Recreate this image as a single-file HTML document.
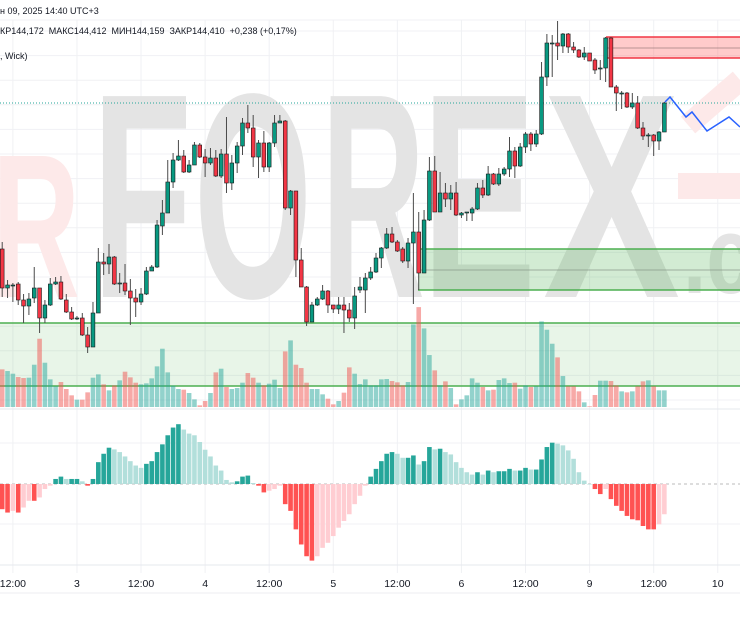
<!DOCTYPE html>
<html><head><meta charset="utf-8"><style>
html,body{margin:0;padding:0;background:#fff;}
body{width:740px;height:620px;overflow:hidden;position:relative;font-family:"Liberation Sans","DejaVu Sans",sans-serif;}
.hdr{position:absolute;left:0;font-size:9px;color:#131722;white-space:pre;}
</style></head><body>
<svg id="chart" width="740" height="620" viewBox="0 0 740 620" style="position:absolute;left:0;top:0">
<g id="grid"></g>
<g id="wm" font-family="Liberation Sans, sans-serif" font-weight="bold">
<text x="-8" y="297" font-size="205" fill="#fde9e9" textLength="88" lengthAdjust="spacingAndGlyphs">R</text>
<text x="92" y="297" font-size="292" fill="#e4e4e4" textLength="100" lengthAdjust="spacingAndGlyphs">F</text>
<text x="194" y="297" font-size="292" fill="#e4e4e4" textLength="118" lengthAdjust="spacingAndGlyphs">O</text>
<text x="321" y="297" font-size="292" fill="#e4e4e4" textLength="104" lengthAdjust="spacingAndGlyphs">R</text>
<text x="422" y="297" font-size="292" fill="#e4e4e4" textLength="114" lengthAdjust="spacingAndGlyphs">E</text>
<text x="543" y="297" font-size="292" fill="#e4e4e4" textLength="137" lengthAdjust="spacingAndGlyphs">X</text>
<text x="683" y="293" font-size="110" fill="#e4e4e4" textLength="70" lengthAdjust="spacingAndGlyphs">.c</text>
<polyline points="688,125 740,80" stroke="#fde9e9" stroke-width="22" fill="none"/>
<rect x="678" y="173" width="62" height="26" fill="#fde9e9"/>
</g>
<g id="zones">
<rect x="0" y="323" width="740" height="63" fill="rgba(76,175,80,0.13)"/>
<line x1="0" y1="323" x2="740" y2="323" stroke="#4caf50" stroke-width="1.5"/>
<line x1="0" y1="386" x2="740" y2="386" stroke="#4caf50" stroke-width="1.5"/>
<rect x="418" y="249" width="322" height="41" fill="rgba(76,175,80,0.25)"/>
<line x1="418" y1="249" x2="740" y2="249" stroke="#4caf50" stroke-width="1.5"/>
<line x1="418" y1="290" x2="740" y2="290" stroke="#4caf50" stroke-width="1.5"/>
<line x1="418" y1="270" x2="740" y2="270" stroke="#8a9a8a" stroke-width="0.7"/>
<rect x="606" y="37" width="134" height="21" fill="rgba(255,82,82,0.3)"/>
<line x1="606" y1="37" x2="740" y2="37" stroke="#f23645" stroke-width="1.5"/>
<line x1="606" y1="58" x2="740" y2="58" stroke="#f23645" stroke-width="1.5"/>
<line x1="606" y1="48" x2="740" y2="48" stroke="#a08080" stroke-width="0.7"/>
</g>
<line x1="0" y1="103" x2="740" y2="103" stroke="#26a69a" stroke-width="1" stroke-dasharray="1,2"/>
<g id="vol"></g>
<g id="candles"></g>
<polyline points="665,102 670,97 686,117 692,112 707,131 729,117 740,127" fill="none" stroke="#2962ff" stroke-width="1.5"/>
<line x1="0" y1="409" x2="740" y2="409" stroke="#e6e8ee" stroke-width="1"/>
<line x1="0" y1="484" x2="740" y2="484" stroke="#bbb" stroke-width="1" stroke-dasharray="3,3"/>
<g id="hist"></g>
<line x1="0" y1="565" x2="740" y2="565" stroke="#e6e8ee"/>
<line x1="0" y1="593" x2="740" y2="593" stroke="#eceef2"/>
<g id="xaxis" font-size="10.5" fill="#131722" text-anchor="middle"></g>
</svg>
<div class="hdr" style="top:6px">н 09, 2025 14:40 UTC+3</div>
<div class="hdr" style="top:26px">КР144,172  МАКС144,412  МИН144,159  ЗАКР144,410  +0,238 (+0,17%)</div>
<div class="hdr" style="top:51px">, Wick)</div>
<script>
const openV=[251,212,215,216,200,194,202,212,182,195,216,218,200,188,182,182,165,153,187,238,236,243,217,217,209,202,198,206,229,233,274,287,318,340,344,328,335,355,343,337,342,324,346,317,337,354,377,372,343,357,333,357,377,379,292,309,240,213,178,195,201,209,195,191,195,190,182,210,210,222,228,242,252,266,258,251,239,257,268,227,280,329,288,307,301,307,285,287,287,291,312,305,326,316,326,331,349,334,353,366,356,366,423,457,457,454,466,453,450,443,447,440,432,432,462,413,407,407,393,397,372,365,365,359,368];
const highV=[258,220,217,218,206,207,233,212,200,222,223,224,206,193,184,187,173,198,252,247,256,244,227,236,221,211,212,233,235,280,300,340,347,360,350,340,358,357,351,352,350,351,383,345,358,382,395,385,360,369,358,385,385,380,310,309,252,214,198,203,215,210,195,203,203,197,213,223,227,233,247,253,272,273,260,253,262,307,288,290,343,344,328,317,315,318,288,288,293,317,320,334,327,332,333,363,353,357,368,368,370,438,466,465,479,467,467,458,451,453,447,442,440,463,463,415,409,408,407,404,378,367,366,369,398];
const lowV=[203,202,198,195,177,185,197,167,177,194,215,200,187,180,180,164,147,153,187,225,226,215,207,205,175,183,195,205,229,232,265,287,312,339,327,327,335,342,323,335,323,322,307,310,327,345,367,333,322,328,328,353,377,290,285,223,213,174,178,194,200,187,187,186,167,178,171,207,187,220,227,232,251,257,248,237,232,196,210,227,279,288,288,293,290,284,282,279,279,290,302,304,315,314,324,323,322,333,347,349,353,365,414,423,440,447,447,447,442,440,439,426,420,418,413,389,391,392,391,371,360,353,344,350,368];
const closeV=[212,215,215,200,194,201,212,182,195,216,218,201,188,181,182,165,153,187,238,236,243,216,217,209,202,198,206,229,233,275,287,318,340,344,328,335,355,343,337,342,324,346,317,337,354,377,372,343,357,333,357,377,379,292,309,240,213,178,195,201,209,195,191,195,190,182,204,213,222,228,242,252,266,258,249,239,257,268,227,280,329,288,307,301,307,285,287,288,291,312,305,326,316,326,331,349,334,353,366,356,366,423,457,457,454,466,453,450,443,447,439,430,432,462,413,407,407,393,397,372,364,365,359,368,397];
const volumes=[113,108,100,90,87,88,127,205,133,83,62,75,54,35,22,22,44,88,98,68,50,65,80,106,89,73,68,71,86,122,175,104,64,54,52,42,23,5,18,42,104,115,60,54,57,73,102,88,73,65,70,82,57,167,200,127,117,73,54,54,38,25,8,18,43,119,100,69,83,65,65,83,84,78,74,65,75,248,300,236,156,110,65,77,57,8,23,35,86,73,60,50,52,81,86,72,73,55,65,60,62,257,232,190,149,93,62,62,47,14,2,36,79,79,78,65,47,44,47,62,77,80,62,50,50];
const momentum=[-75,-85,-80,-85,-70,-50,-50,-40,-15,-5,15,22,15,15,15,8,-5,15,65,90,108,103,95,82,68,55,48,60,68,95,118,145,168,178,162,150,145,125,102,82,55,40,12,5,8,22,25,3,-5,-25,-20,-15,-5,-60,-80,-135,-180,-215,-228,-215,-190,-175,-155,-130,-110,-90,-60,-35,-5,22,45,68,90,95,90,78,78,85,58,68,110,103,105,95,88,65,48,35,28,35,28,40,35,38,38,45,40,40,48,43,43,73,110,123,120,115,100,75,35,10,0,-15,-30,-15,-45,-65,-80,-95,-105,-108,-125,-135,-135,-120,-90];
const timeLabels=["12:00","3","12:00","4","12:00","5","12:00","6","12:00","9","12:00","10"];
const timeLabelIdx=[2,14,26,38,50,62,74,86,98,110,122,134];

const NS="http://www.w3.org/2000/svg";
function mk(tag,attrs,parent){const e=document.createElementNS(NS,tag);for(const k in attrs)e.setAttribute(k,attrs[k]);parent.appendChild(e);return e;}
function xOf(i){return 2.2+i*5.34;}
function yPrice(v){return 500-v;}
function yVol(v){return 407-v*0.333;}
function yMom(v){return 484-v*0.336;}

const grid=document.getElementById('grid');
for(let y=31;y<405;y+=24.6){const l=mk('line',{x1:0,x2:740,y1:y,y2:y,stroke:'#f0f1f4','stroke-width':1},grid);

}
[20,443,524].forEach(y=>{const l=mk('line',{x1:0,x2:740,y1:y,y2:y,stroke:'#f0f1f4','stroke-width':1},grid);

});
const xaxis=document.getElementById('xaxis');
timeLabels.forEach((t,k)=>{const x=xOf(timeLabelIdx[k]);
const l=mk('line',{x1:x,x2:x,y1:20,y2:573,stroke:'#f0f1f4','stroke-width':1},grid);


const tx=mk('text',{x:x,y:587},xaxis);tx.textContent=t;

});

const vg=document.getElementById('vol');
volumes.forEach((v,i)=>{const up=closeV[i]>=openV[i];
const r=mk('rect',{x:xOf(i)-2.3,y:yVol(v),width:4.6,height:407-yVol(v),fill:up?'rgba(38,166,154,0.5)':'rgba(239,83,80,0.5)'},vg);

});

const cg=document.getElementById('candles');
openV.forEach((o,i)=>{const c=closeV[i],x=xOf(i),up=c>=o;
const w=mk('line',{x1:x,x2:x,y1:yPrice(highV[i]),y2:yPrice(lowV[i]),stroke:'#4a4a4a','stroke-width':1},cg);


const top=yPrice(Math.max(o,c)),h=Math.max(1,Math.abs(o-c));
const b=mk('rect',{x:x-1.9,y:top,width:3.8,height:h,fill:up?'#089981':'#f23645',stroke:'#1a1a1a','stroke-width':0.6},cg);

});

const hg=document.getElementById('hist');
momentum.forEach((v,i)=>{const p=i>0?momentum[i-1]:v;let col;
if(v>=0)col=v>=p?'#26a69a':'#b2dfdb';else col=v<=p?'#ff5252':'#ffcdd2';
const y0=yMom(0),y1=yMom(v);
const r=mk('rect',{x:xOf(i)-2.3,y:Math.min(y0,y1),width:4.6,height:Math.max(0.5,Math.abs(y1-y0)),fill:col},hg);

});
</script>
</body></html>
